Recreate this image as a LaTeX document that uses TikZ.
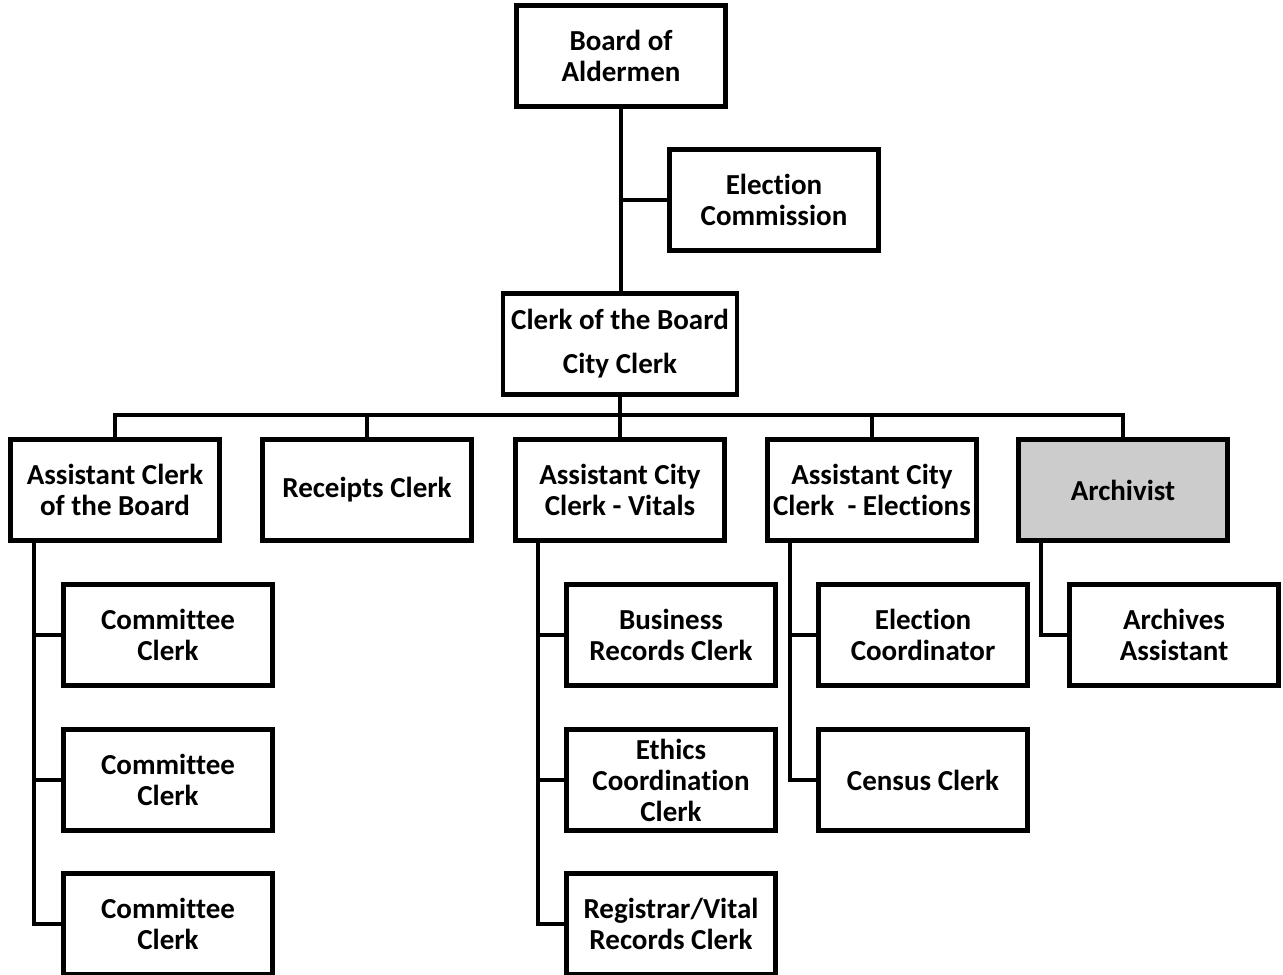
\documentclass[tikz,border=0pt]{standalone}
\usepackage{fontspec}
\setmainfont[Ligatures=NoCommon]{Carlito}
\definecolor{archgray}{gray}{0.80}
\begin{document}
\begin{tikzpicture}[x=0.5pt,y=-0.5pt]
	\tikzset{every node/.style=
        {line width=2.4pt, draw=black, align=center, inner sep=1pt,
         font=\bfseries\fontsize{14.5}{15.5}\selectfont,
         minimum height=50.5pt, minimum width=104.5pt},
        link/.style={line width=2.4pt}
     }
	\useasboundingbox (0,0) rectangle (1283,974);
	\node (board) at (621,56) [draw] {Board of\\Aldermen};
	\node (elecom) at (774,200) [draw] {Election\\Commission};
	\node[minimum width=117pt] (clerk) at (620,344) [draw] {Clerk of the Board\\[6.5pt]City Clerk};
	\node (asstb) at (115,490) [draw] {Assistant Clerk\\of the Board};
	\node (receipts) at (367,490) [draw] {Receipts Clerk};
	\node (vitals) at (620,490) [draw] {Assistant City\\Clerk - Vitals};
	\node (elections) at (872,490) [draw] {Assistant City\\Clerk~~- Elections};
	\node[fill=archgray] (archivist) at (1123,490) [draw] {Archivist};
	\node (com1) at (168,635) [draw] {Committee\\Clerk};
	\node (com2) at (168,780) [draw] {Committee\\Clerk};
	\node (com3) at (168,924) [draw] {Committee\\Clerk};
	\node (business) at (671,635) [draw] {Business\\Records Clerk};
	\node (ethics) at (671,780) [draw] {Ethics\\Coordination\\Clerk};
	\node (registrar) at (671,924) [draw] {Registrar/Vital\\Records Clerk};
	\node (elcoord) at (923,635) [draw] {Election\\Coordinator};
	\node (census) at (923,780) [draw] {Census Clerk};
	\node (archasst) at (1174,635) [draw] {Archives\\Assistant};

	\coordinate (bus) at (620,415);
	\coordinate (b1) at (34,542);
	\coordinate (b2) at (538,542);
	\coordinate (b3) at (790,542);
	\coordinate (b4) at (1041,542);

	\draw[link] (board.south) -- (board.south |- clerk.north);
	\draw[link] (board.south |- elecom.west) -- (elecom.west);
	\draw[link] (clerk.south) -- (bus);
	\draw[link] (asstb.north) |- (bus);
	\draw[link] (receipts.north) |- (bus);
	\draw[link] (vitals.north) -- (bus);
	\draw[link] (elections.north) |- (bus);
	\draw[link] (archivist.north) |- (bus);
	\draw[link] (b1) |- (com3.west);
	\draw[link] (b1 |- com1.west) -- (com1.west);
	\draw[link] (b1 |- com2.west) -- (com2.west);
	\draw[link] (b2) |- (registrar.west);
	\draw[link] (b2 |- business.west) -- (business.west);
	\draw[link] (b2 |- ethics.west) -- (ethics.west);
	\draw[link] (b3) |- (census.west);
	\draw[link] (b3 |- elcoord.west) -- (elcoord.west);
	\draw[link] (b4) |- (archasst.west);
\end{tikzpicture}
\end{document}
